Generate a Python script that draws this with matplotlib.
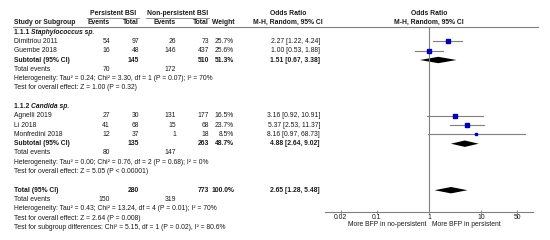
import numpy as np
import matplotlib.pyplot as plt

plt.rcParams["font.family"] = ["Liberation Sans", "DejaVu Sans"]

# ---------------------------------------------------------
# Data
# ---------------------------------------------------------
studies = ["Dimitriou 2011", "Guembe 2018",
           "Agnelli 2019", "Li 2018", "Monfredini 2018"]
group_of = [0, 0, 1, 1, 1]
pers_events = [54, 16, 27, 41, 12]
pers_total = [97, 48, 30, 68, 37]
non_events = [26, 146, 131, 15, 1]
non_total = [73, 437, 177, 68, 18]
weights = [25.7, 25.6, 16.5, 23.7, 8.5]
or_est = [2.27, 1.00, 3.16, 5.37, 8.16]
or_lo = [1.22, 0.53, 0.92, 2.53, 0.97]
or_hi = [4.24, 1.88, 10.91, 11.37, 68.73]

group_ids = ["1.1.1 ", "1.1.2 "]
group_names = ["Staphylococcus sp.", "Candida sp."]
sub_pers_total = [145, 135]
sub_non_total = [510, 263]
sub_weight = [51.3, 48.7]
sub_est = [1.51, 4.88]
sub_lo = [0.67, 2.64]
sub_hi = [3.38, 9.02]
sub_pers_events = [70, 80]
sub_non_events = [172, 147]
sub_het = ["Heterogeneity: Tau² = 0.24; Chi² = 3.30, df = 1 (P = 0.07); I² = 70%",
           "Heterogeneity: Tau² = 0.00; Chi² = 0.76, df = 2 (P = 0.68); I² = 0%"]
sub_test = ["Test for overall effect: Z = 1.00 (P = 0.32)",
            "Test for overall effect: Z = 5.05 (P < 0.00001)"]

tot_pers_total = 280
tot_non_total = 773
tot_est, tot_lo, tot_hi = 2.65, 1.28, 5.48
tot_pers_events = 150
tot_non_events = 319
tot_het = "Heterogeneity: Tau² = 0.43; Chi² = 13.24, df = 4 (P = 0.01); I² = 70%"
tot_test = "Test for overall effect: Z = 2.64 (P = 0.008)"
subgroup_test = "Test for subgroup differences: Chi² = 5.15, df = 1 (P = 0.02), I² = 80.6%"

x_ticks = [0.02, 0.1, 1, 10, 50]
x_tick_labels = ["0.02", "0.1", "1", "10", "50"]
left_label = "More BFP in no-persistent"
right_label = "More BFP in persistent"

# ---------------------------------------------------------
# Layout (pixel coordinates)
# ---------------------------------------------------------
W, H = 550, 240
FS = 4.9
TXT = "#1a1a1a"
GRAY = "#7f7f7f"
ROW0 = 13.5
STEP = 9.3

X_STUDY = 14
X_PE, X_PT = 110, 139
X_NE, X_NT = 176, 209
X_W = 234
X_CI = 320
X_CI_HEAD = 288
AX_L, AX_R, AX_Y = 325, 533, 211.5


def row_y(i):
    return ROW0 + STEP * i


fig = plt.figure(figsize=(W / 100, H / 100), dpi=100)
ax = fig.add_axes([0, 0, 1, 1])
ax.set_xlim(0, W)
ax.set_ylim(H, 0)
ax.axis("off")

fx = fig.add_axes([AX_L / W, (H - AX_Y) / H, (AX_R - AX_L) / W, AX_Y / H])
fx.set_xscale("log")
fx.set_xlim(0.01, 100)
fx.set_ylim(AX_Y, 0)
fx.patch.set_alpha(0)
for s in ["top", "left", "right"]:
    fx.spines[s].set_visible(False)
fx.spines["bottom"].set_color(GRAY)
fx.spines["bottom"].set_linewidth(0.8)
fx.set_yticks([])
fx.set_xticks(x_ticks)
fx.set_xticklabels(x_tick_labels)
fx.xaxis.set_minor_locator(plt.NullLocator())
fx.tick_params(axis="x", direction="inout", length=3, width=0.6,
               color=GRAY, labelsize=FS, labelcolor=TXT, pad=0)


def put(x, y, s, ha="right", bold=False, **kw):
    return ax.text(x, y, s, ha=ha, va="center", fontsize=FS, color=TXT,
                   fontweight="bold" if bold else "normal", **kw)


# header
y_h1, y_h2 = row_y(0), row_y(1)
put((87 + X_PT) / 2, y_h1, "Persistent BSI", ha="center", bold=True)
put((150 + X_NT) / 2 - 2, y_h1, "Non-persistent BSI", ha="center", bold=True)
put(X_CI_HEAD, y_h1, "Odds Ratio", ha="center", bold=True)
put(429, y_h1, "Odds Ratio", ha="center", bold=True)
put(X_STUDY, y_h2, "Study or Subgroup", ha="left", bold=True)
put(X_PE, y_h2, "Events", bold=True)
put(X_PT, y_h2, "Total", bold=True)
put(X_NE, y_h2, "Events", bold=True)
put(X_NT, y_h2, "Total", bold=True)
put(X_W, y_h2, "Weight", bold=True)
put(X_CI_HEAD, y_h2, "M-H, Random, 95% CI", ha="center", bold=True)
put(429, y_h2, "M-H, Random, 95% CI", ha="center", bold=True)
ax.plot([87, X_PT], [y_h1 + 4.3, y_h1 + 4.3], color=GRAY, lw=0.6)
ax.plot([146, X_NT], [y_h1 + 4.3, y_h1 + 4.3], color=GRAY, lw=0.6)
ax.plot([X_STUDY - 1, 538], [y_h2 + 4.6, y_h2 + 4.6], color=GRAY, lw=0.8)

# null line
fx.plot([1, 1], [y_h2 + 4.6, AX_Y], color=GRAY, lw=0.8)


def diamond(y, est, lo, hi, h=3.2):
    fx.fill([lo, est, hi, est], [y, y - h, y, y + h], color="black", lw=0)


r = 2
for g in range(2):
    yg = row_y(r)
    t1 = put(X_STUDY, yg, group_ids[g], ha="left", bold=True)
    ax.annotate(group_names[g], xy=(1, 0), xycoords=t1, ha="left", va="bottom",
                fontsize=FS, color=TXT, fontweight="bold", fontstyle="italic")
    r += 1
    for i in range(len(studies)):
        if group_of[i] != g:
            continue
        y = row_y(r)
        put(X_STUDY, y, studies[i], ha="left")
        put(X_PE, y, str(pers_events[i]))
        put(X_PT, y, str(pers_total[i]))
        put(X_NE, y, str(non_events[i]))
        put(X_NT, y, str(non_total[i]))
        put(X_W, y, f"{weights[i]:.1f}%")
        put(X_CI, y, f"{or_est[i]:.2f} [{or_lo[i]:.2f}, {or_hi[i]:.2f}]")
        fx.plot([or_lo[i], or_hi[i]], [y, y], color=GRAY, lw=0.8, zorder=2)
        fx.plot([or_est[i]], [y], marker="s", color="#0000b4", lw=0,
                markersize=3.0 * np.sqrt(weights[i] / 25.7), zorder=3)
        r += 1
    y = row_y(r)
    put(X_STUDY, y, "Subtotal (95% CI)", ha="left", bold=True)
    put(X_PT, y, str(sub_pers_total[g]), bold=True)
    put(X_NT, y, str(sub_non_total[g]), bold=True)
    put(X_W, y, f"{sub_weight[g]:.1f}%", bold=True)
    put(X_CI, y, f"{sub_est[g]:.2f} [{sub_lo[g]:.2f}, {sub_hi[g]:.2f}]", bold=True)
    diamond(y, sub_est[g], sub_lo[g], sub_hi[g])
    r += 1
    y = row_y(r)
    put(X_STUDY, y, "Total events", ha="left")
    put(X_PE, y, str(sub_pers_events[g]))
    put(X_NE, y, str(sub_non_events[g]))
    r += 1
    put(X_STUDY, row_y(r), sub_het[g], ha="left")
    r += 1
    put(X_STUDY, row_y(r), sub_test[g], ha="left")
    r += 2

# overall
y = row_y(r)
put(X_STUDY, y, "Total (95% CI)", ha="left", bold=True)
put(X_PT, y, str(tot_pers_total), bold=True)
put(X_NT, y, str(tot_non_total), bold=True)
put(X_W, y, "100.0%", bold=True)
put(X_CI, y, f"{tot_est:.2f} [{tot_lo:.2f}, {tot_hi:.2f}]", bold=True)
diamond(y, tot_est, tot_lo, tot_hi)
r += 1
y = row_y(r)
put(X_STUDY, y, "Total events", ha="left")
put(X_PE, y, str(tot_pers_events))
put(X_NE, y, str(tot_non_events))
r += 1
put(X_STUDY, row_y(r), tot_het, ha="left")
r += 1
put(X_STUDY, row_y(r), tot_test, ha="left")
r += 1
put(X_STUDY, row_y(r), subgroup_test, ha="left")

put(426, 224, left_label, ha="right")
put(432, 224, right_label, ha="left")

fig.savefig("out.png", dpi=100)
